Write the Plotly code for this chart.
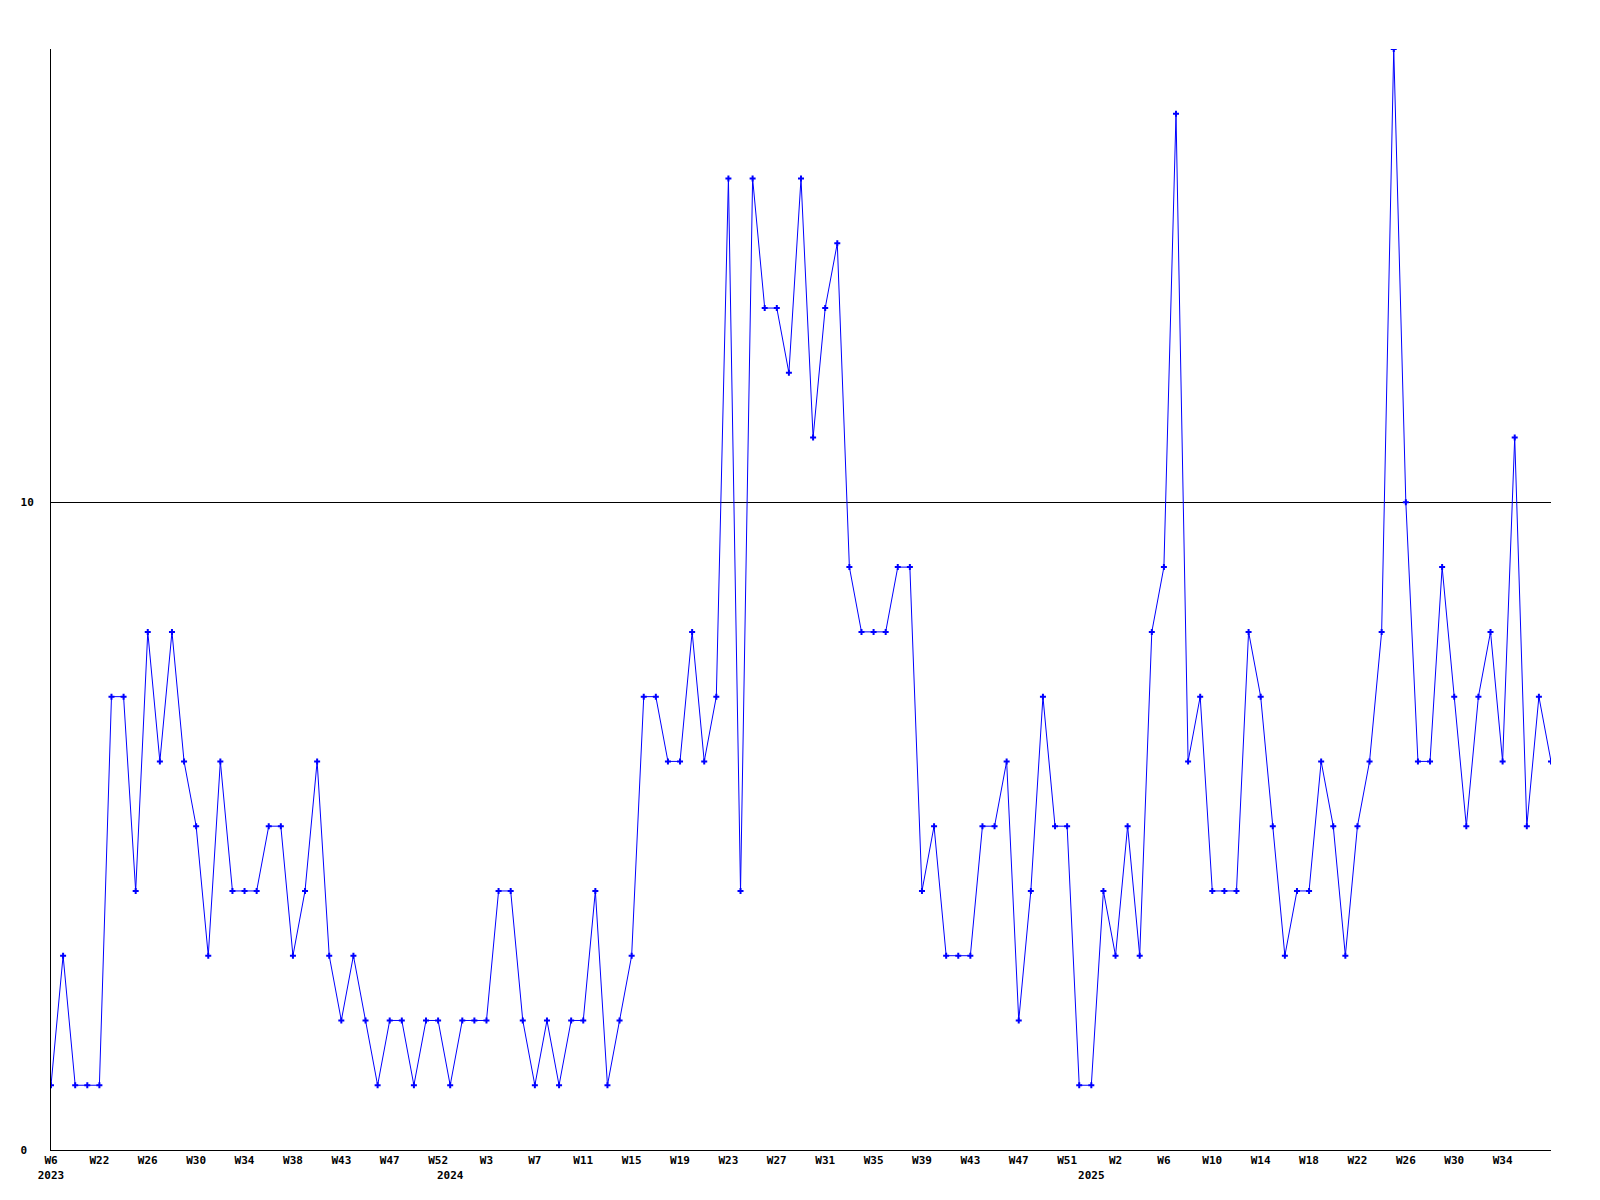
import plotly.graph_objects as go

# categories: year / week of each point (in order)
years = ([2023] * 33) + ([2024] * 53) + ([2025] * 39)
weeks_2023 = [6, 19, 20, 21, 22, 23, 24, 25, 26, 27, 28, 29, 30, 31, 32, 33, 34, 35, 36, 37,
              38, 39, 40, 42, 43, 44, 45, 46, 47, 48, 49, 51, 52]
weeks_2024 = list(range(0, 53))
weeks_2025 = list(range(0, 39))
weeks = weeks_2023 + weeks_2024 + weeks_2025

values = [
    1, 3, 1, 1, 1, 7, 7, 4, 8, 6, 8, 6, 5, 3, 6, 4, 4, 4, 5, 5, 3, 4, 6, 3, 2,
    3, 2, 1, 2, 2, 1, 2, 2, 1, 2, 2, 2, 4, 4, 2, 1, 2, 1, 2, 2, 4, 1, 2, 3, 7,
    7, 6, 6, 8, 6, 7, 15, 4, 15, 13, 13, 12, 15, 11, 13, 14, 9, 8, 8, 8, 9, 9, 4, 5, 3,
    3, 3, 5, 5, 6, 2, 4, 7, 5, 5, 1, 1, 4, 3, 5, 3, 8, 9, 16, 6, 7, 4, 4, 4, 8,
    7, 5, 3, 4, 4, 6, 5, 3, 5, 6, 8, 17, 10, 6, 6, 9, 7, 5, 7, 8, 6, 11, 5, 7, 6,
]

labels = [f"{y} W{w}" for y, w in zip(years, weeks)]
idx = list(range(len(values)))

# tick labels: every 4th point (not the last one), plus year markers at first point of each year
tickvals = []
ticktext = []
for i in idx:
    first_of_year = (i == 0) or (years[i] != years[i - 1])
    if i % 4 == 0 and i != len(values) - 1:
        t = f"W{weeks[i]}"
        if first_of_year:
            t += f"<br>{years[i]}"
        tickvals.append(i)
        ticktext.append(t)
    elif first_of_year:
        tickvals.append(i)
        ticktext.append(f"\u00a0<br>{years[i]}")

y_tickvals = [0, 10]
y_ticktext = ["0\u00a0", "10"]

FONT = dict(family="DejaVu Sans Mono", size=11, color="black", weight="bold")

fig = go.Figure()
fig.add_trace(go.Scatter(
    x=idx, y=values, text=labels, mode="lines+markers",
    line=dict(color="#0000ff", width=1),
    marker=dict(symbol="cross", size=5, color="#0000ff", line=dict(width=0)),
    hovertemplate="%{text}: %{y}<extra></extra>",
    cliponaxis=True,
))

# the page body adds an 8px margin, so the figure is sized to compensate
fig.update_layout(
    width=1592, height=1192,
    margin=dict(l=43, r=49, t=41, b=50, pad=0),
    paper_bgcolor="white", plot_bgcolor="white",
    showlegend=False,
    font=FONT,
    xaxis=dict(
        range=[0, len(values) - 1], tickmode="array", tickvals=tickvals, ticktext=ticktext,
        showgrid=False, zeroline=False, showline=True, linecolor="black", linewidth=1,
        ticks="", tickfont=FONT, tickangle=0,
    ),
    yaxis=dict(
        range=[0, 17], tickmode="array", tickvals=y_tickvals, ticktext=y_ticktext,
        showgrid=True, gridcolor="black", gridwidth=1, zeroline=False,
        showline=True, linecolor="black", linewidth=1, ticks="", tickfont=FONT,
        ticklabelstandoff=14,
    ),
)

fig.write_html("out.html")
